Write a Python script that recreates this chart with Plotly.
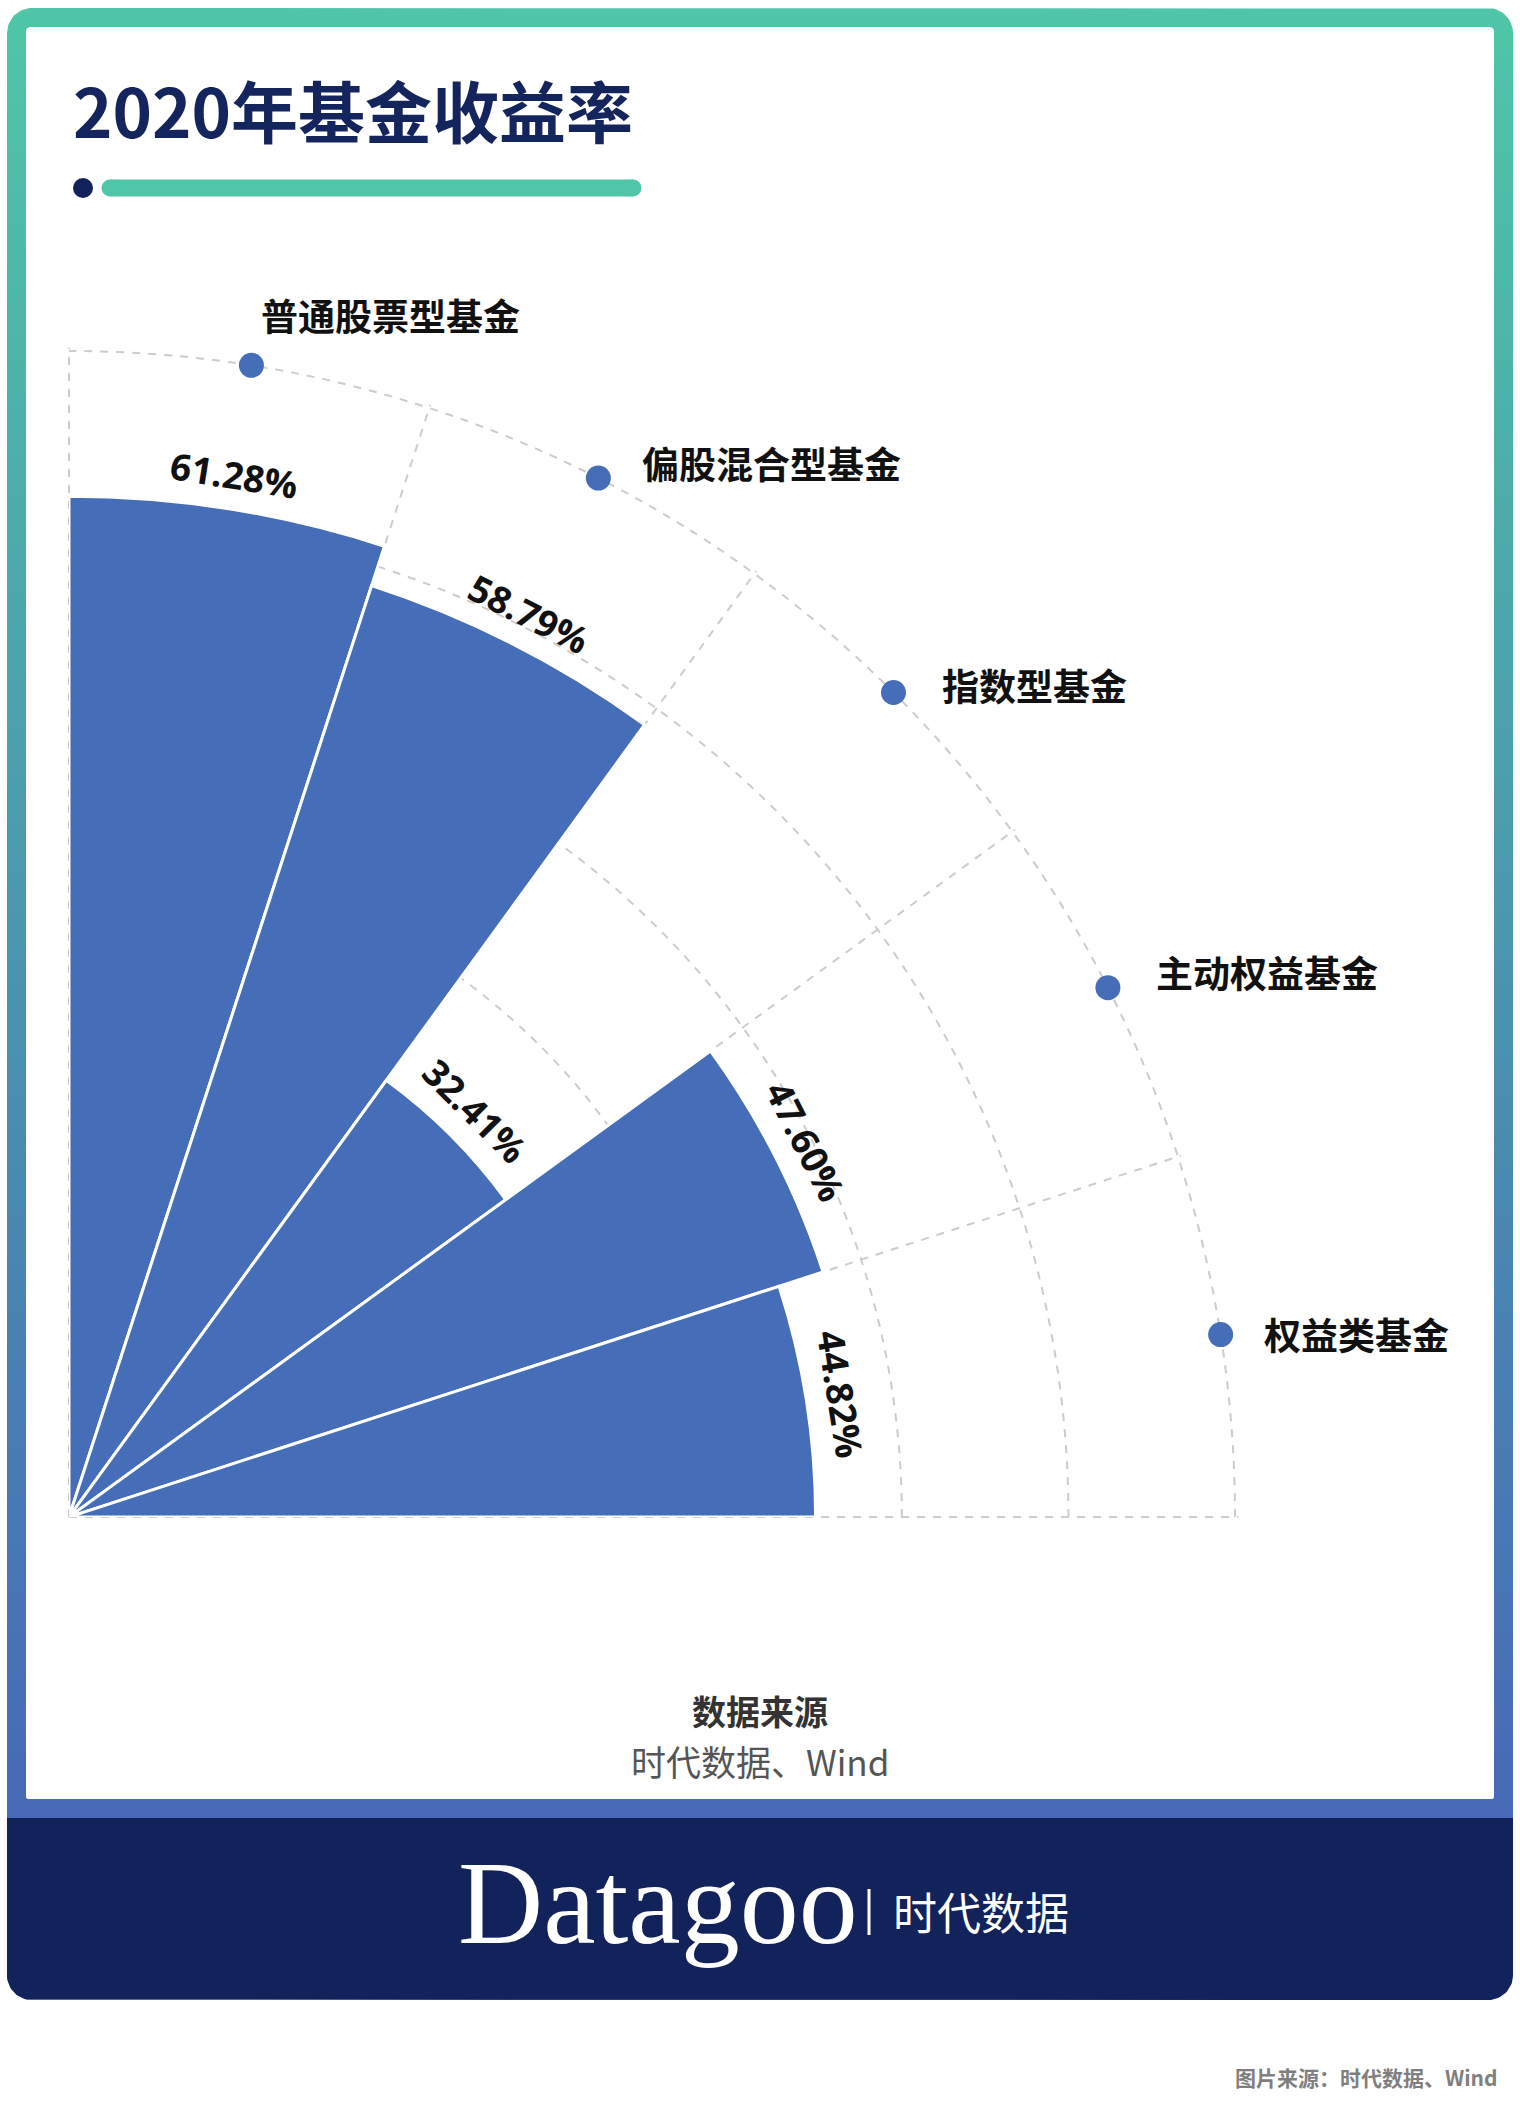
import math
import plotly.graph_objects as go

# ---------------- data ----------------
categories = ["普通股票型基金", "偏股混合型基金", "指数型基金", "主动权益基金", "权益类基金"]
returns = [61.28, 58.79, 32.41, 47.60, 44.82]
value_labels = ["61.28%", "58.79%", "32.41%", "47.60%", "44.82%"]
radial_ticks = [10, 20, 30, 40, 50, 60, 70]

title_text = "2020年基金收益率"
source_title = "数据来源"
source_text = "时代数据、Wind"
brand_en = "Datagoo"
brand_cn = "时代数据"
footer_text = "图片来源：时代数据、Wind"

# ---------------- styles / layout constants ----------------
W, H = 1520, 2126
BLUE = "#456DB8"
NAVY = "#12225a"
TEAL = "#4fc6a7"
GRID = "#cccccc"
CJK = "Noto Sans CJK SC"

R_MAX = 70.2                     # radial axis range end (a hair past the last ring)
CX, CY = 69, 1517                # polar origin on the page (px)
SIDE = 1166 * R_MAX / 70         # polar domain side (px)
# per-label shift (px) of the category names relative to their dots
LABEL_SHIFT = [(8, 50), (42, 15), (47, 8), (46, 16), (41, 1)]

n = len(categories)
step = 90.0 / n
theta = [90 - step * (i + 0.5) for i in range(n)]


def rrect(x0, y0, x1, y1, r_tl, r_tr, r_br, r_bl, k=16):
    xs, ys = [], []
    corners = [((x0 + r_tl, y0 + r_tl), r_tl, 180),
               ((x1 - r_tr, y0 + r_tr), r_tr, 270),
               ((x1 - r_br, y1 - r_br), r_br, 0),
               ((x0 + r_bl, y1 - r_bl), r_bl, 90)]
    for (cx, cy), r, a0 in corners:
        for j in range(k + 1):
            a = math.radians(a0 + 90 * j / k)
            xs.append(cx + r * math.cos(a))
            ys.append(cy + r * math.sin(a))
    xs.append(xs[0]); ys.append(ys[0])
    return xs, ys


fig = go.Figure()

# ---- page decoration (page axis in pixels) ----
fx, fy = rrect(7, 8, 1513, 2000, 25, 25, 25, 25)
fig.add_trace(go.Scatter(
    x=fx, y=fy, mode="lines", fill="toself", line=dict(width=0),
    fillgradient=dict(type="vertical", colorscale=[[0, TEAL], [1, "#4769b7"]],
                      start=8, stop=1818),
    hoverinfo="skip", showlegend=False, xaxis="x", yaxis="y"))
wx, wy = rrect(26, 27, 1494, 1799, 4, 4, 2, 2)
fig.add_trace(go.Scatter(
    x=wx, y=wy, mode="lines", fill="toself", line=dict(width=0),
    fillcolor="white", hoverinfo="skip", showlegend=False, xaxis="x", yaxis="y"))
nx, ny = rrect(7, 1818, 1513, 2000, 0, 0, 25, 25)
fig.add_trace(go.Scatter(
    x=nx, y=ny, mode="lines", fill="toself", line=dict(width=0),
    fillcolor=NAVY, hoverinfo="skip", showlegend=False, xaxis="x", yaxis="y"))
# title underline: teal rounded bar + navy dot
fig.add_trace(go.Scatter(
    x=[110, 633], y=[188, 188], mode="lines+markers",
    line=dict(color=TEAL, width=17), marker=dict(color=TEAL, size=17),
    hoverinfo="skip", showlegend=False, xaxis="x", yaxis="y"))
fig.add_trace(go.Scatter(
    x=[83], y=[188], mode="markers", marker=dict(color=NAVY, size=20),
    hoverinfo="skip", showlegend=False, xaxis="x", yaxis="y"))

# ---- polar chart ----
fig.add_trace(go.Barpolar(
    r=returns, theta=theta, width=[step] * n,
    marker=dict(color=BLUE, line=dict(color="white", width=3)),
    hoverinfo="skip", showlegend=False, subplot="polar"))
fig.add_trace(go.Scatterpolar(
    r=[radial_ticks[-1]] * n, theta=theta, mode="markers",
    marker=dict(color=BLUE, size=25), hoverinfo="skip",
    showlegend=False, subplot="polar"))

annotations = []
# value labels (tangential)
for i in range(n):
    t = math.radians(theta[i])
    rr = returns[i] + 2.1
    annotations.append(dict(
        x=rr * math.cos(t), y=rr * math.sin(t), xref="x2", yref="y2",
        text=f"<b>{value_labels[i]}</b>", showarrow=False, textangle=90 - theta[i],
        xanchor="center", yanchor="middle",
        font=dict(family="Open Sans, Noto Sans", size=37, color="#111111")))
# category labels next to the dots
for i in range(n):
    t = math.radians(theta[i])
    rr = radial_ticks[-1]
    annotations.append(dict(
        x=rr * math.cos(t), y=rr * math.sin(t), xref="x2", yref="y2",
        text=f"<b>{categories[i]}</b>", showarrow=False,
        xanchor="left", yanchor="middle",
        xshift=LABEL_SHIFT[i][0], yshift=LABEL_SHIFT[i][1],
        font=dict(family=CJK, size=37, color="#111111")))

# page texts
annotations += [
    dict(x=71, y=108, xref="x", yref="y", text=f"<b>{title_text}</b>", showarrow=False,
         xanchor="left", yanchor="middle", font=dict(family=CJK, size=67, color="#14245c")),
    dict(x=760, y=1710, xref="x", yref="y", text=f"<b>{source_title}</b>", showarrow=False,
         xanchor="center", yanchor="middle", font=dict(family=CJK, size=34, color="#333333")),
    dict(x=760, y=1760, xref="x", yref="y", text=source_text, showarrow=False,
         xanchor="center", yanchor="middle", font=dict(family=CJK, size=35, color="#555555")),
    dict(x=456, y=1903, xref="x", yref="y", text=brand_en, showarrow=False,
         xanchor="left", yanchor="middle",
         font=dict(family="Liberation Serif, DejaVu Serif", size=118, color="white")),
    dict(x=891, y=1911, xref="x", yref="y", text=brand_cn, showarrow=False,
         xanchor="left", yanchor="middle", font=dict(family=CJK, size=44, color="white")),
    dict(x=1500, y=2077, xref="x", yref="y", text=f"<b>{footer_text}</b>", showarrow=False,
         xanchor="right", yanchor="middle", font=dict(family=CJK, size=21, color="#7f7f7f")),
]

shapes = [dict(type="line", xref="x", yref="y", x0=869, x1=869, y0=1889, y1=1935,
               line=dict(color="white", width=3), layer="above")]

dom_x = [CX / W, (CX + SIDE) / W]
dom_y = [(H - CY) / H, (H - CY + SIDE) / H]

fig.update_layout(
    width=W, height=H, autosize=False,
    margin=dict(l=0, r=0, t=0, b=0, pad=0),
    paper_bgcolor="white", plot_bgcolor="rgba(0,0,0,0)",
    showlegend=False,
    xaxis=dict(domain=[0, 1], range=[0, W], visible=False, fixedrange=True),
    yaxis=dict(domain=[0, 1], range=[H, 0], visible=False, fixedrange=True),
    xaxis2=dict(domain=dom_x, range=[0, R_MAX], visible=False, anchor="y2", fixedrange=True),
    yaxis2=dict(domain=dom_y, range=[0, R_MAX], visible=False, anchor="x2", fixedrange=True),
    polar=dict(
        domain=dict(x=dom_x, y=dom_y),
        sector=[0, 90], hole=0, bgcolor="rgba(0,0,0,0)",
        radialaxis=dict(range=[0, R_MAX], tickmode="array", tickvals=radial_ticks,
                        showticklabels=False, ticks="", showline=False,
                        showgrid=True, gridcolor=GRID, gridwidth=2, griddash="8px,8px"),
        angularaxis=dict(thetaunit="degrees", direction="counterclockwise", rotation=0,
                         tickmode="array", tickvals=[0, 18, 36, 54, 72, 90],
                         showticklabels=False, ticks="", showline=False,
                         showgrid=True, gridcolor=GRID, gridwidth=2, griddash="8px,8px"),
    ),
    annotations=annotations,
    shapes=shapes,
)

fig.write_html("out.html", config={"displayModeBar": False},
               post_script="document.body.style.margin='0';document.documentElement.style.overflow='hidden';")
